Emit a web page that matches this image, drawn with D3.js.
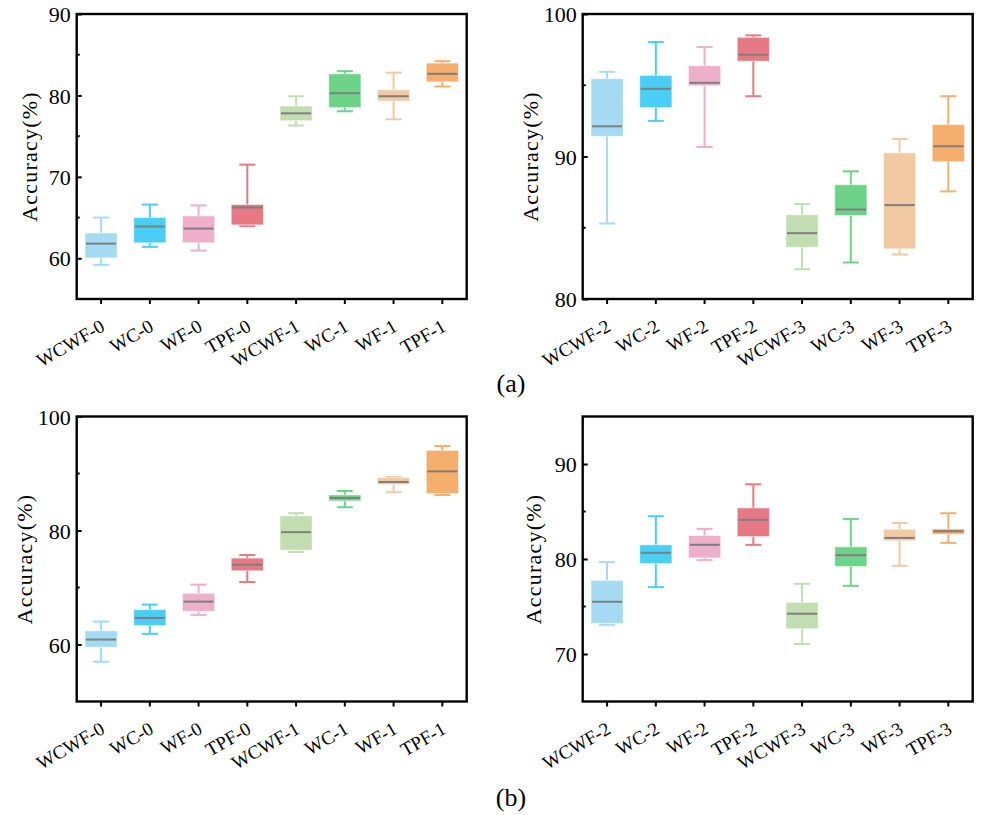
<!DOCTYPE html>
<html>
<head>
<meta charset="utf-8">
<script src="https://cdn.jsdelivr.net/npm/d3@7"></script>
<style>
  body { margin: 0; background: #fff; }
  svg text { font-family: "Liberation Serif", "Times New Roman", serif; fill: #000; }
</style>
</head>
<body>
<div id="chart"></div>
<script>
var catsLow  = ["WCWF-0", "WC-0", "WF-0", "TPF-0", "WCWF-1", "WC-1", "WF-1", "TPF-1"];
var catsHigh = ["WCWF-2", "WC-2", "WF-2", "TPF-2", "WCWF-3", "WC-3", "WF-3", "TPF-3"];
var colors = ["#a5dbf2", "#4acef8", "#edafc9", "#e57a85", "#c2deb0", "#6dd389", "#f1caa3", "#f4ae6e"];

// [min, q1, median, q3, max] per category
var boxA1 = [[59.2, 60.05, 61.8, 63.1, 65.0], [61.4, 61.9, 63.9, 65.0, 66.6], [60.95, 61.9, 63.65, 65.2, 66.5], [63.95, 64.1, 66.25, 66.6, 71.5],
             [76.3, 76.9, 77.8, 78.7, 79.9], [78.06, 78.5, 80.27, 82.65, 82.98], [77.07, 79.3, 79.9, 80.7, 82.8], [81.1, 81.67, 82.65, 83.97, 84.2]];
var boxA2 = [[85.3, 91.42, 92.12, 95.47, 95.94], [92.5, 93.43, 94.75, 95.69, 98.03], [90.67, 94.96, 95.17, 96.37, 97.68], [94.23, 96.69, 97.14, 98.36, 98.5],
             [82.09, 83.63, 84.62, 85.91, 86.66], [82.56, 85.86, 86.28, 88.02, 88.96], [83.12, 83.52, 86.59, 90.25, 91.23], [87.55, 89.64, 90.72, 92.24, 94.23]];
var boxB1 = [[56.97, 59.53, 60.87, 62.39, 64.02], [61.87, 63.32, 64.66, 66.12, 67.0], [65.19, 65.83, 67.52, 68.98, 70.5], [70.96, 72.94, 73.99, 75.16, 75.69],
             [76.21, 76.56, 79.71, 82.57, 83.03], [84.08, 85.19, 85.71, 86.24, 86.94], [86.71, 88.05, 88.51, 89.27, 89.39], [86.24, 86.47, 90.38, 94.05, 94.81]];
var boxB2 = [[73.08, 73.22, 75.5, 77.74, 79.67], [77.04, 79.53, 80.65, 81.49, 84.5], [79.88, 80.12, 81.49, 82.47, 83.17], [81.49, 82.36, 84.12, 85.38, 87.86],
             [71.05, 72.66, 74.24, 75.43, 77.39], [77.18, 79.21, 80.4, 81.28, 84.22], [79.28, 81.91, 82.22, 83.13, 83.8], [81.7, 82.61, 82.92, 83.17, 84.82]];

var svg = d3.select("#chart").append("svg")
    .attr("width", 989)
    .attr("height", 815);

function boxPanel(left, top, cats, stats, domain, majors, minors, labelX) {
  var w = 390, h = 285;
  var g = svg.append("g").attr("transform", "translate(" + left + "," + top + ")");

  var x = d3.scaleBand().domain(cats).range([0, w]);
  var y = d3.scaleLinear().domain(domain).range([h, 0]);
  var bw = x.bandwidth() * 0.66;

  ///////////// BOXES /////////////
  var box = g.selectAll("g.box")
    .data(stats)
    .enter().append("g")
    .attr("class", "box")
    .attr("transform", function(d, i) { return "translate(" + (x(cats[i]) + x.bandwidth() / 2) + ",0)"; });

  box.append("line")
    .attr("y1", function(d) { return y(d[0]); })
    .attr("y2", function(d) { return y(d[4]); })
    .attr("stroke", function(d, i) { return colors[i]; })
    .attr("stroke-width", 2);

  box.selectAll("line.cap")
    .data(function(d, i) { return [{v: d[0], c: colors[i]}, {v: d[4], c: colors[i]}]; })
    .enter().append("line")
    .attr("class", "cap")
    .attr("x1", -bw / 4).attr("x2", bw / 4)
    .attr("y1", function(d) { return y(d.v); })
    .attr("y2", function(d) { return y(d.v); })
    .attr("stroke", function(d) { return d.c; })
    .attr("stroke-width", 2);

  box.append("rect")
    .attr("x", -bw / 2)
    .attr("width", bw)
    .attr("y", function(d) { return y(d[3]); })
    .attr("height", function(d) { return y(d[1]) - y(d[3]); })
    .attr("fill", function(d, i) { return colors[i]; })
    .attr("stroke", "#ffffff")
    .attr("stroke-opacity", 0.5)
    .attr("stroke-width", 1);

  box.append("line")
    .attr("x1", -bw / 2 + 1).attr("x2", bw / 2 - 1)
    .attr("y1", function(d) { return y(d[2]); })
    .attr("y2", function(d) { return y(d[2]); })
    .attr("stroke", "#7f7f7f")
    .attr("stroke-width", 2);

  ///////////// AXES /////////////
  var yAxis = g.append("g")
    .call(d3.axisRight(y).tickValues(majors).tickSize(5).tickFormat(d3.format("d")));
  yAxis.select(".domain").remove();
  yAxis.selectAll("line").attr("stroke", "#000").attr("stroke-width", 2);
  yAxis.selectAll("text")
    .attr("x", -6)
    .attr("text-anchor", "end")
    .attr("dy", "0.35em")
    .style("font-size", "22px");

  g.append("g").selectAll("line")
    .data(minors)
    .enter().append("line")
    .attr("x1", 0).attr("x2", 3)
    .attr("y1", function(d) { return y(d); })
    .attr("y2", function(d) { return y(d); })
    .attr("stroke", "#000")
    .attr("stroke-width", 2);

  var xAxis = g.append("g")
    .attr("transform", "translate(0," + h + ")")
    .call(d3.axisBottom(x).tickSize(5).tickSizeOuter(0));
  xAxis.select(".domain").remove();
  xAxis.selectAll("line").attr("stroke", "#000").attr("stroke-width", 2);
  xAxis.selectAll("text")
    .attr("y", 0).attr("dy", 0)
    .attr("text-anchor", "end")
    .attr("transform", "translate(5,31) rotate(-30)")
    .style("font-size", "19px");

  g.append("rect")
    .attr("width", w)
    .attr("height", h)
    .attr("fill", "none")
    .attr("stroke", "#000")
    .attr("stroke-width", 2.4);

  g.append("text")
    .attr("transform", "translate(" + labelX + "," + (h / 2) + ") rotate(-90)")
    .attr("text-anchor", "middle")
    .attr("dy", "0.35em")
    .style("font-size", "22px")
    .style("letter-spacing", "1.2px")
    .text("Accuracy(%)");
}

boxPanel(76.7, 14, catsLow, boxA1, [55, 90], [60, 70, 80, 90], [65, 75, 85], -47);
boxPanel(582.7, 14, catsHigh, boxA2, [80, 100], [80, 90, 100], [85, 95], -52);
boxPanel(76.7, 416.5, catsLow, boxB1, [50, 100], [60, 80, 100], [70, 90], -52);
boxPanel(582.7, 416.5, catsHigh, boxB2, [65, 95], [70, 80, 90], [75, 85], -49);

svg.append("text").attr("x", 511).attr("y", 392).attr("text-anchor", "middle")
  .style("font-size", "26px").text("(a)");
svg.append("text").attr("x", 511).attr("y", 806).attr("text-anchor", "middle")
  .style("font-size", "26px").text("(b)");
</script>
</body>
</html>
